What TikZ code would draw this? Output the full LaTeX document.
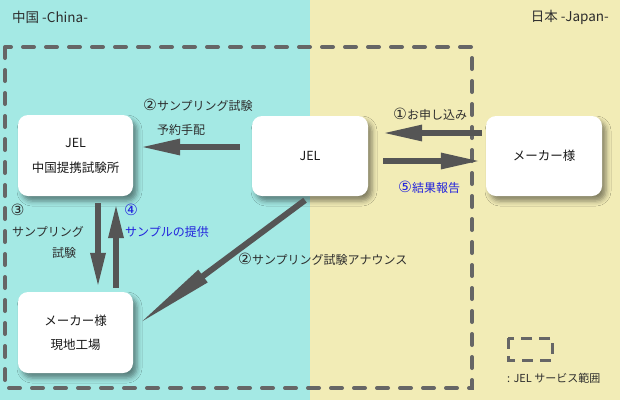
\documentclass[tikz,border=0pt]{standalone}
\usepackage{fontspec}
\setmainfont{Noto Sans CJK JP}
\newfontfamily\circfont{DejaVu Sans}
\newcommand\circn[1]{{\circfont\fontsize{15.5}{14}\selectfont #1}}
\usetikzlibrary{arrows.meta,shadows.blur}
\definecolor{bgcyan}{RGB}{164,233,228}
\definecolor{bgyellow}{RGB}{242,236,182}
\definecolor{dashgray}{RGB}{102,102,102}
\definecolor{arrgray}{RGB}{85,85,85}
\definecolor{txtgray}{RGB}{45,45,45}
\definecolor{txtblue}{RGB}{34,34,221}
\tikzset{
  box/.style={fill=white, rounded corners=10pt, minimum width=115pt, minimum height=81pt,
    align=center, font=\fontsize{12.5}{25}\selectfont, text=black!90, inner sep=0pt,
    blur shadow={shadow xshift=4pt, shadow yshift=-5pt, shadow blur radius=5pt, shadow opacity=45}},
  lbl/.style={font=\fontsize{12}{14}\selectfont, text=txtgray, inner sep=0pt},
  blbl/.style={lbl, text=txtblue},
  harr/.style={draw=arrgray, line width=6pt, -{Triangle[length=40pt,width=15pt]}, arrgray},
  varr/.style={draw=arrgray, line width=6pt, -{Triangle[length=35pt,width=14pt]}, arrgray},
  darr/.style={draw=arrgray, line width=6pt, -{Triangle[length=82pt,width=14pt]}, arrgray},
  service/.style={draw=dashgray, line width=4pt, dash pattern=on 11pt off 12pt, line cap=round},
}
\begin{document}
\begin{tikzpicture}[x=1pt,y=-1pt]
\useasboundingbox (0,0) rectangle (620,400);
\fill[bgcyan] (0,0) rectangle (310,400);
\fill[bgyellow] (310,0) rectangle (620,400);

% service range
\draw[service] (5,47) rectangle (472,388);

% boxes
\node[box] (chinajel) at (75.5,155.5) {JEL\\中国提携試験所};
\node[box, minimum width=116pt, minimum height=80pt] (jel) at (310,156) {JEL};
\node[box, minimum width=116pt, minimum height=80pt] (maker) at (544,156) {メーカー様};
\node[box, minimum height=81pt, font=\fontsize{12.5}{24}\selectfont] (factory) at (75.5,332.5) {メーカー様\\現地工場};

% arrows
\draw[harr] ([xshift=-12pt,yshift=9pt]jel.west) -- ([xshift=7pt,yshift=8.5pt]chinajel.east);
\draw[harr] ([xshift=-4pt,yshift=23pt]maker.west) -- ([xshift=14pt,yshift=23pt]jel.east);
\draw[harr] ([xshift=15pt,yshift=-5pt]jel.east) -- ([xshift=-5pt,yshift=-5pt]maker.west);
\draw[varr] ([xshift=22.5pt,yshift=-7pt]chinajel.south) -- ([xshift=22.5pt,yshift=4pt]factory.north);
\draw[varr] ([xshift=40.5pt,yshift=4pt]factory.north) -- ([xshift=40.5pt,yshift=-7pt]chinajel.south);
\draw[darr] ([xshift=-5pt,yshift=-4pt]jel.south) -- ([xshift=4pt,yshift=7.5pt]factory.east);

% titles
\node[lbl, anchor=west, font=\fontsize{13.5}{15}\selectfont] (tcn) at (12,17) {中国 -China-};
\node[lbl, anchor=east, font=\fontsize{13.5}{15}\selectfont] (tjp) at (609,17) {日本 -Japan-};

% labels
\node[lbl, anchor=west] (l2a) at (143,105) {\circn{②}サンプリング試験};
\node[lbl, anchor=west] (l2b) at (157,130) {予約手配};
\node[lbl, anchor=west] (l1) at (393,114) {\circn{①}お申し込み};
\node[blbl, anchor=west] (l5) at (398,187) {\circn{⑤}結果報告};
\node[lbl] (l3n) at (17.5,210) {\circn{③}};
\node[lbl, anchor=west] (l3a) at (12,232) {サンプリング};
\node[lbl, anchor=west] (l3b) at (52,253) {試験};
\node[blbl] (l4n) at (131,210) {\circn{④}};
\node[blbl, anchor=west] (l4a) at (125,232) {サンプルの提供};
\node[lbl, anchor=west] (l2c) at (238,259) {\circn{②}サンプリング試験アナウンス};

% legend
\draw[draw=dashgray, line width=3pt, dash pattern=on 11pt off 7pt] (508,338) rectangle (552,360);
\node[lbl, anchor=west, font=\fontsize{11}{12}\selectfont] (leg) at (507,378) {: JEL サービス範囲};
\end{tikzpicture}
\end{document}
